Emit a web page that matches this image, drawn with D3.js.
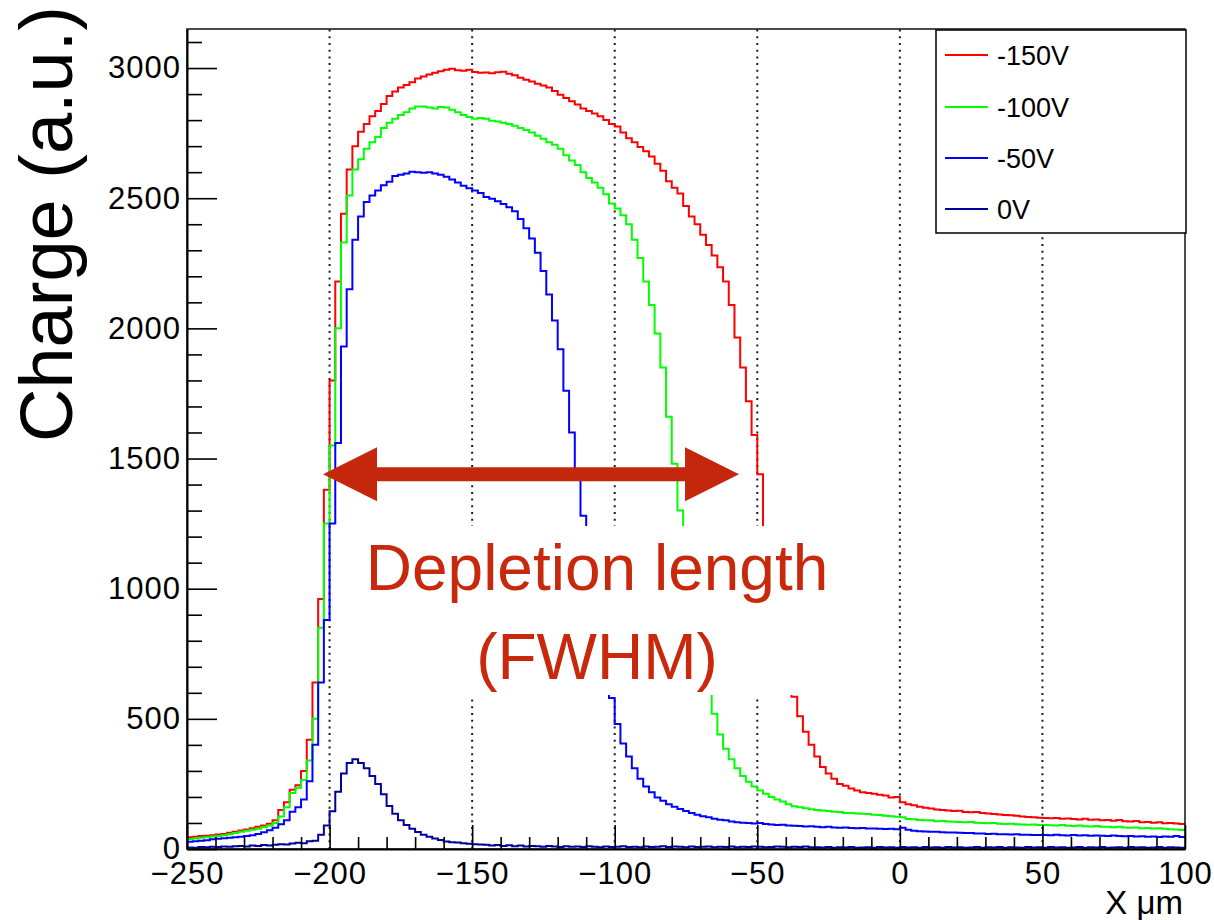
<!DOCTYPE html>
<html><head><meta charset="utf-8">
<script src="https://cdn.jsdelivr.net/npm/d3@7"></script>
<style>
body{margin:0;background:#fff;}
svg{display:block;font-family:"Liberation Sans",Arial,Helvetica,sans-serif;}
</style>
</head><body>
<svg id="chart" width="1214" height="920"></svg>
<script>
// ---------------- DATA ----------------
// histogram bins: 2 um wide, from -250 to 100 (values listed by bin, left to right)
const xDomain = [-250, 100];
const binWidth = 2;
const seriesLabels = ["-150V", "-100V", "-50V", "0V"];
const seriesColors = ["#ff0000", "#00ff00", "#0000ff", "#00009c"];

const v150 = [
  45,47,50,51,53,56,58,62,66,71,
  75,80,85,90,97,110,150,180,228,245,
  300,420,640,960,1380,1800,2180,2440,2610,2700,
  2755,2785,2815,2835,2862,2893,2910,2925,2935,2945,
  2960,2968,2975,2982,2988,2993,2997,2992,2990,2993,
  2985,2982,2983,2980,2984,2986,2978,2972,2963,2955,
  2948,2940,2933,2925,2912,2897,2885,2872,2860,2845,
  2835,2825,2815,2800,2785,2775,2752,2730,2715,2697,
  2680,2660,2632,2605,2565,2540,2518,2470,2430,2400,
  2360,2320,2280,2235,2180,2090,1965,1850,1720,1590,
  1440,1230,1050,900,770,670,585,510,450,400,
  355,315,290,270,250,243,232,225,218,215,
  212,208,206,198,200,180,172,168,162,158,
  156,152,150,148,146,147,142,141,142,138,
  136,134,133,131,130,128,125,123,122,120,
  119,118,119,116,117,115,113,116,112,113,
  110,111,109,111,107,106,108,103,104,101,
  103,99,100,98,96
];
const v100 = [
  38,40,43,45,48,50,53,57,61,66,
  70,74,78,84,90,100,125,160,215,235,
  265,340,500,850,1250,1550,2000,2330,2510,2610,
  2650,2690,2715,2735,2770,2790,2805,2820,2830,2845,
  2852,2852,2848,2845,2850,2848,2840,2830,2820,2812,
  2805,2808,2805,2798,2795,2790,2785,2778,2770,2762,
  2752,2740,2728,2715,2705,2690,2665,2645,2628,2600,
  2578,2560,2540,2515,2480,2460,2435,2400,2340,2270,
  2180,2090,1980,1850,1660,1480,1300,1130,980,840,
  720,600,520,440,385,345,310,280,258,240,
  225,212,200,190,182,172,164,160,157,153,
  150,148,146,143,142,138,138,136,135,134,
  132,131,128,126,124,122,115,114,111,110,
  110,107,108,106,105,104,103,104,101,100,
  99,100,97,96,97,95,94,93,94,92,
  92,91,90,92,89,88,90,87,86,88,
  85,85,84,85,83,82,83,80,81,79,
  80,78,76,75,73
];
const v50 = [
  28,30,32,34,37,39,41,43,45,47,
  50,53,58,64,72,82,95,110,143,160,
  190,260,400,640,880,1250,1560,1930,2150,2340,
  2430,2485,2510,2530,2550,2563,2585,2590,2595,2602,
  2600,2598,2600,2595,2590,2582,2572,2560,2548,2538,
  2530,2520,2505,2498,2488,2478,2465,2450,2420,2385,
  2345,2290,2220,2130,2030,1920,1760,1600,1440,1280,
  1100,950,820,700,580,480,405,355,310,270,
  240,218,198,185,172,162,154,146,138,132,
  126,122,116,112,110,106,103,101,100,98,
  100,96,94,92,93,90,89,88,86,87,
  85,84,85,83,82,83,81,80,81,79,
  79,78,77,78,76,82,74,70,68,67,
  66,66,64,63,63,62,61,61,60,60,
  58,59,57,57,56,57,55,55,54,54,
  54,53,55,53,52,54,52,53,51,52,
  51,50,52,50,49,50,48,49,47,48,
  46,48,47,50,46
];
const v0 = [
  6,5,8,7,9,8,10,9,11,12,
  10,13,12,15,13,16,18,17,21,24,
  22,30,32,55,90,145,220,290,330,345,
  330,310,280,250,210,165,135,110,92,78,
  65,55,47,40,35,29,26,25,22,20,
  18,17,16,13,15,12,14,11,13,10,
  12,11,9,12,10,8,11,9,10,8,
  11,9,7,10,8,9,11,8,9,7,
  10,8,9,11,8,10,9,7,10,8,
  9,10,7,9,8,10,7,9,8,10,
  9,7,8,10,9,7,9,8,10,7,
  7,6,8,5,7,6,8,5,6,7,
  5,8,6,7,5,8,6,7,5,8,
  6,7,5,8,6,7,5,6,8,5,
  7,6,8,5,7,6,5,8,6,7,
  5,8,6,7,5,6,8,5,7,6,
  8,5,6,7,5,8,6,7,5,6,
  8,5,7,6,5
];
const seriesValues = [v150, v100, v50, v0];

const xMajorTicks = [-250, -200, -150, -100, -50, 0, 50, 100];
const xTickLabels = ["\u2212250", "\u2212200", "\u2212150", "\u2212100", "\u221250", "0", "50", "100"];
const yMajorTicks = [0, 500, 1000, 1500, 2000, 2500, 3000];
const yTickLabels = ["0", "500", "1000", "1500", "2000", "2500", "3000"];
const yMax = 3150;

// annotation (data coordinates): FWHM arrow
const fwhmLevel = 1440;
const fwhmFrom = -202.3;
const fwhmTo = -56.4;
const annotationLines = ["Depletion length", "(FWHM)"];

// ---------------- CHART ----------------
const svg = d3.select("#chart");
const L = 187, R = 1185, T = 29, B = 849;
const x = d3.scaleLinear().domain(xDomain).range([L, R]);
const y = d3.scaleLinear().domain([0, yMax]).range([B, T]);

svg.append("rect").attr("width", 1214).attr("height", 920).attr("fill", "#fff");

svg.append("defs").append("clipPath").attr("id", "plotclip")
  .append("rect").attr("x", L).attr("y", T).attr("width", R - L).attr("height", B - T);

// gridlines (vertical, dotted)
svg.append("g").selectAll("line")
  .data(xMajorTicks.filter(d => d > xDomain[0] && d < xDomain[1]))
  .join("line")
  .attr("x1", d => x(d)).attr("x2", d => x(d))
  .attr("y1", B).attr("y2", T)
  .attr("stroke", "#1a1a1a").attr("stroke-width", 2)
  .attr("stroke-dasharray", "2,4.7");

// histograms
const nBins = v150.length;
const edges = d3.range(nBins).map(i => xDomain[0] + i * binWidth);
const line = d3.line().x(d => x(d[0])).y(d => y(d[1])).curve(d3.curveStepAfter);
const gh = svg.append("g").attr("clip-path", "url(#plotclip)");
seriesValues.forEach((vals, si) => {
  const pts = vals.map((v, i) => [edges[i], v]);
  pts.push([xDomain[1], vals[vals.length - 1]]);
  gh.append("path").attr("d", line(pts))
    .attr("fill", "none").attr("stroke", seriesColors[si])
    .attr("stroke-width", 2).attr("stroke-linejoin", "miter");
});

// frame
svg.append("rect").attr("x", L).attr("y", T).attr("width", R - L).attr("height", B - T)
  .attr("fill", "none").attr("stroke", "#000").attr("stroke-width", 1.4);

// x axis
const xMinor = d3.range(xDomain[0], xDomain[1] + 0.001, 10).filter(d => !xMajorTicks.includes(d));
const gx = svg.append("g").attr("transform", `translate(0,${B})`);
gx.call(d3.axisBottom(x).tickValues(xMajorTicks).tickSize(-24).tickSizeOuter(0)
  .tickPadding(13).tickFormat((d, i) => xTickLabels[i]));
gx.append("g").call(d3.axisBottom(x).tickValues(xMinor).tickSize(-12).tickSizeOuter(0).tickFormat(""))
  .select(".domain").remove();
gx.selectAll("line").attr("stroke", "#000").attr("stroke-width", 1.6);
gx.select(".domain").attr("stroke", "#000").attr("stroke-width", 2);
gx.selectAll("text").attr("font-size", 31).attr("fill", "#000")
  .attr("font-family", "'Liberation Sans',Arial,sans-serif").attr("letter-spacing", 1);

// y axis
const yMinor = d3.range(0, yMax, 100).filter(d => !yMajorTicks.includes(d));
const gy = svg.append("g").attr("transform", `translate(${L},0)`);
gy.call(d3.axisLeft(y).tickValues(yMajorTicks).tickSize(-30).tickSizeOuter(0)
  .tickPadding(6).tickFormat((d, i) => yTickLabels[i]));
gy.append("g").call(d3.axisLeft(y).tickValues(yMinor).tickSize(-15).tickSizeOuter(0).tickFormat(""))
  .select(".domain").remove();
gy.selectAll("line").attr("stroke", "#000").attr("stroke-width", 1.6);
gy.select(".domain").attr("stroke", "#000").attr("stroke-width", 2);
gy.selectAll("text").attr("font-size", 31).attr("fill", "#000")
  .attr("font-family", "'Liberation Sans',Arial,sans-serif").attr("letter-spacing", 1);

// axis titles
svg.append("text").attr("transform", "translate(72,442) rotate(-90)")
  .attr("font-size", 74).attr("fill", "#000").text("Charge (a.u.)");
svg.append("text").attr("x", 1183).attr("y", 914).attr("text-anchor", "end")
  .attr("font-size", 33).attr("fill", "#000").text("X \u03bcm");

// annotation box (white background behind the text)
svg.append("rect").attr("x", 346).attr("y", 526).attr("width", 500).attr("height", 169)
  .attr("fill", "#fff");
const annColor = "#c8290c";
svg.append("g").selectAll("text").data(annotationLines).join("text")
  .attr("x", 597).attr("y", (d, i) => 590 + i * 89)
  .attr("text-anchor", "middle").attr("font-size", 64).attr("fill", annColor)
  .text(d => d);

// FWHM arrow
const ay = y(fwhmLevel), ax0 = x(fwhmFrom), ax1 = x(fwhmTo);
const headL = 54, headH = 27, shaft = 7;
const arrowPts = [
  [ax0, ay], [ax0 + headL, ay - headH], [ax0 + headL, ay - shaft],
  [ax1 - headL, ay - shaft], [ax1 - headL, ay - headH], [ax1, ay],
  [ax1 - headL, ay + headH], [ax1 - headL, ay + shaft],
  [ax0 + headL, ay + shaft], [ax0 + headL, ay + headH]
];
svg.append("polygon").attr("points", arrowPts.map(p => p.join(",")).join(" "))
  .attr("fill", "#c4270b");

// legend
const lg = svg.append("g");
lg.append("rect").attr("x", 936).attr("y", 30).attr("width", 250).attr("height", 203)
  .attr("fill", "#fff").attr("stroke", "#000").attr("stroke-width", 1.5);
const legY = [55, 107, 158, 209];
seriesLabels.forEach((lab, i) => {
  lg.append("line").attr("x1", 945).attr("x2", 988).attr("y1", legY[i]).attr("y2", legY[i])
    .attr("stroke", seriesColors[i]).attr("stroke-width", 1.8);
  lg.append("text").attr("x", 997).attr("y", legY[i]).attr("dy", "0.36em")
    .attr("font-size", 27).attr("fill", "#000").text(lab);
});
</script>
</body></html>
